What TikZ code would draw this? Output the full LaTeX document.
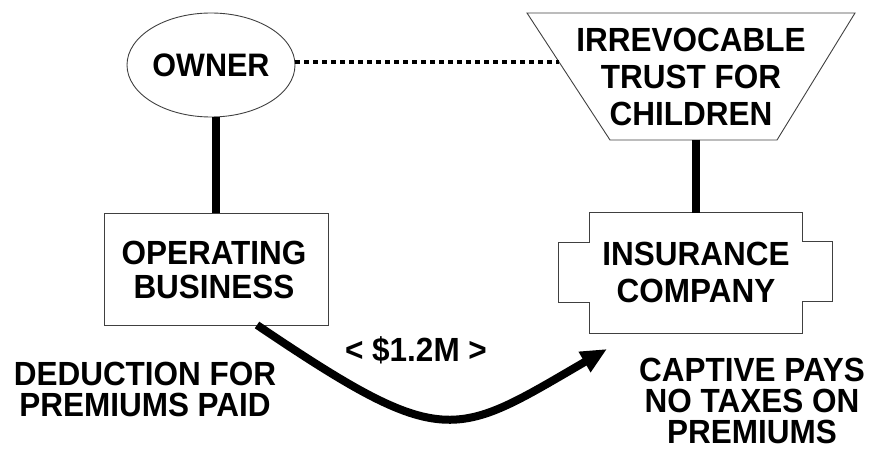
\documentclass[tikz,border=0pt]{standalone}
\usepackage{fontspec}
\setmainfont{Liberation Sans}[FakeStretch=0.94]
\usetikzlibrary{calc,arrows.meta,shapes.geometric}
\begin{document}
\begin{tikzpicture}[x=1pt,y=-1pt,
  outline/.style={draw=black!75,line width=0.9pt},
  lbl/.style={font=\bfseries\fontsize{33.5}{37}\selectfont,align=center,inner sep=0pt},
  link/.style={line width=8pt},
  tie/.style={line width=3.5pt,dash pattern=on 5pt off 4pt},
  flow/.style={line width=8pt,-{Triangle[length=26pt,width=22pt]}}]
\useasboundingbox (0,0) rectangle (874,457);

% owner
\node[outline,ellipse,minimum width=168pt,minimum height=104pt,inner sep=0pt] (owner) at (211,65) {};
\node[lbl,font=\bfseries\fontsize{32.5}{37}\selectfont] (ownertxt) at (211,65) {OWNER};

% trust (inverted trapezoid)
\coordinate (tTL) at (527,13);
\coordinate (tTR) at (855,13);
\coordinate (tBR) at (777,140);
\coordinate (tBL) at (610,140);
\draw[outline] (tTL) -- (tTR) -- (tBR) -- (tBL) -- cycle;
\node[lbl] (trust) at (691,77) {IRREVOCABLE\\TRUST FOR\\CHILDREN};
\coordinate (tL) at ($(tTL)!0.386!(tBL)$);

% operating business
\node[outline,rectangle,minimum width=224pt,minimum height=112pt,inner sep=0pt] (ob) at (216,269) {};
\node[lbl,font=\bfseries\fontsize{33.5}{34.5}\selectfont] (obtxt) at (214,270) {OPERATING\\BUSINESS};

% insurance company (notched box)
\node[rectangle,minimum width=212pt,minimum height=120pt,inner sep=0pt] (ins) at (696,273) {};
\draw[outline]
  (ins.north west) -- (ins.north east) -- ++(0,29) -- ++(30,0) -- ++(0,60) -- ++(-30,0)
  -- (ins.south east) -- (ins.south west) -- ++(0,-31) -- ++(-31,0) -- ++(0,-60) -- ++(31,0) -- cycle;
\node[lbl] (instxt) at (696,272.5) {INSURANCE\\COMPANY};

% connectors
\draw[link] (owner.south -| ob.north) -- (ob.north);
\draw[link] (ins.north |- tBL) -- (ins.north);
\draw[tie] (owner.2) -- (owner.2 -| tL);

% premium flow
\coordinate (pay1) at (257,325);
\coordinate (pay2) at (607,349);
\draw[flow] (pay1) .. controls (445,452) and (454,438) .. (pay2);
\node[lbl] (amount) at (416,350) {< \$1.2M >};

% side notes
\node[lbl,font=\bfseries\fontsize{33.5}{31}\selectfont] (deduct) at (145,389) {DEDUCTION FOR\\PREMIUMS PAID};
\node[lbl,font=\bfseries\fontsize{33.5}{31}\selectfont] (captive) at (752,401) {CAPTIVE PAYS\\NO TAXES ON\\PREMIUMS};
\end{tikzpicture}
\end{document}
